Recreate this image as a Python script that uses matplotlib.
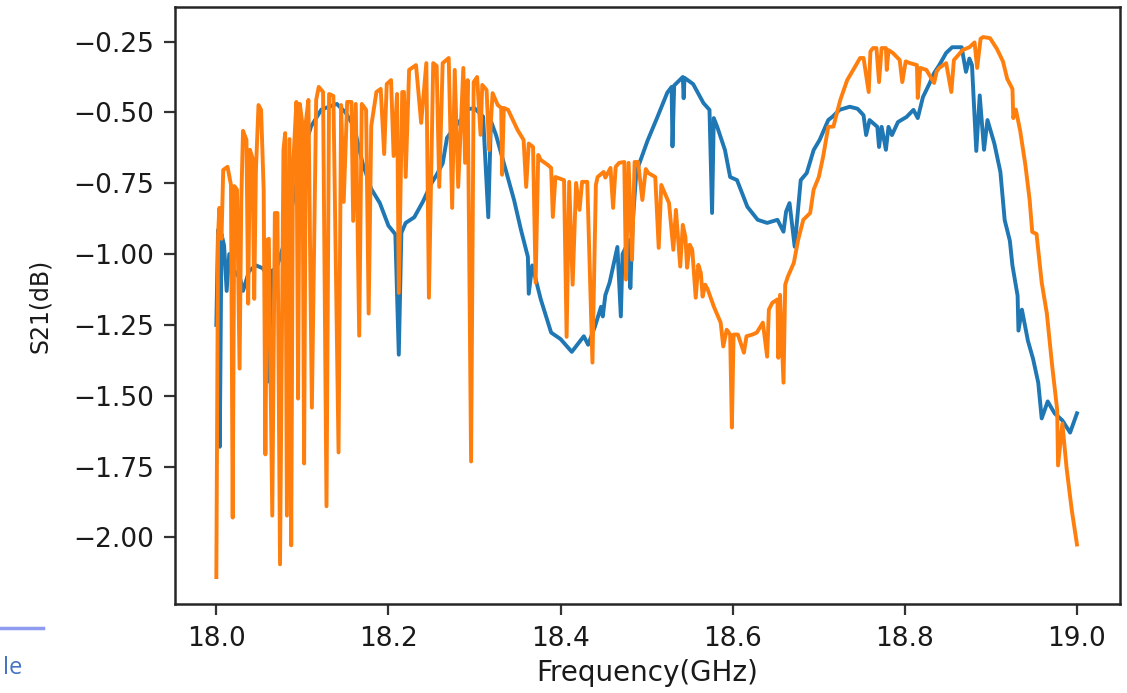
import matplotlib
matplotlib.use("Agg")
import matplotlib.pyplot as plt
from matplotlib.lines import Line2D

# S21 of the two filter versions
freq_a = [18.000, 18.002, 18.004, 18.006, 18.009, 18.012, 18.015, 18.019, 18.028, 18.031,
          18.038, 18.046, 18.054, 18.058, 18.061, 18.064, 18.070, 18.080, 18.090, 18.100,
          18.110, 18.122, 18.140, 18.150, 18.160, 18.170, 18.180, 18.190, 18.200, 18.208,
          18.212, 18.215, 18.220, 18.230, 18.240, 18.250, 18.256, 18.263, 18.268, 18.275,
          18.287, 18.290, 18.300, 18.310, 18.316, 18.319, 18.325, 18.334, 18.346, 18.354,
          18.362, 18.363, 18.367, 18.377, 18.389, 18.400, 18.413, 18.427, 18.432, 18.440,
          18.447, 18.449, 18.452, 18.457, 18.466, 18.470, 18.472, 18.480, 18.481, 18.484,
          18.488, 18.501, 18.512, 18.524, 18.529, 18.530, 18.532, 18.542, 18.543, 18.544,
          18.554, 18.566, 18.573, 18.576, 18.578, 18.582, 18.591, 18.597, 18.605, 18.617,
          18.629, 18.640, 18.652, 18.659, 18.662, 18.666, 18.672, 18.679, 18.686, 18.694,
          18.701, 18.711, 18.716, 18.724, 18.736, 18.745, 18.752, 18.755, 18.759, 18.768,
          18.770, 18.773, 18.778, 18.781, 18.785, 18.792, 18.802, 18.810, 18.815, 18.821,
          18.829, 18.834, 18.840, 18.848, 18.855, 18.866, 18.871, 18.875, 18.878, 18.883,
          18.887, 18.892, 18.896, 18.904, 18.911, 18.916, 18.922, 18.925, 18.931, 18.932,
          18.936, 18.943, 18.949, 18.955, 18.959, 18.966, 18.974, 18.983, 18.992, 19.000]
s21_a = [-1.25, -0.915, -1.68, -0.93, -0.97, -1.13, -1.00, -1.05, -1.09, -1.13,
         -1.06, -1.04, -1.05, -1.07, -1.45, -1.06, -1.05, -0.95, -0.80, -0.65,
         -0.55, -0.49, -0.47, -0.50, -0.55, -0.68, -0.77, -0.82, -0.90, -0.93,
         -1.355, -0.925, -0.89, -0.87, -0.815, -0.75, -0.72, -0.68, -0.59, -0.56,
         -0.515, -0.49, -0.485, -0.515, -0.87, -0.53, -0.58, -0.678, -0.81, -0.915,
         -1.01, -1.14, -1.04, -1.16, -1.277, -1.30, -1.345, -1.29, -1.32, -1.255,
         -1.186, -1.22, -1.145, -1.10, -0.975, -1.22, -1.00, -0.95, -1.12, -0.88,
         -0.71, -0.60, -0.52, -0.43, -0.41, -0.62, -0.405, -0.375, -0.45, -0.378,
         -0.40, -0.467, -0.491, -0.855, -0.52, -0.551, -0.633, -0.728, -0.739, -0.833,
         -0.879, -0.89, -0.879, -0.921, -0.85, -0.82, -0.974, -0.739, -0.714, -0.633,
         -0.597, -0.527, -0.515, -0.491, -0.48, -0.487, -0.51, -0.58, -0.527, -0.551,
         -0.622, -0.551, -0.632, -0.551, -0.58, -0.534, -0.516, -0.491, -0.52, -0.446,
         -0.396, -0.361, -0.333, -0.29, -0.27, -0.27, -0.357, -0.31, -0.333, -0.636,
         -0.44, -0.632, -0.527, -0.61, -0.71, -0.88, -0.953, -1.04, -1.147, -1.27,
         -1.196, -1.306, -1.37, -1.454, -1.58, -1.52, -1.562, -1.587, -1.63, -1.562]

freq_b = [18.000, 18.002, 18.0035, 18.006, 18.008, 18.013, 18.017, 18.019, 18.021, 18.024,
          18.027, 18.029, 18.031, 18.035, 18.037, 18.039, 18.042, 18.044, 18.046, 18.049,
          18.052, 18.055, 18.057, 18.059, 18.061, 18.065, 18.068, 18.071, 18.074, 18.078,
          18.080, 18.082, 18.085, 18.087, 18.089, 18.093, 18.095, 18.097, 18.100, 18.102,
          18.104, 18.107, 18.111, 18.116, 18.119, 18.124, 18.128, 18.131, 18.136, 18.142,
          18.145, 18.148, 18.152, 18.157, 18.159, 18.162, 18.166, 18.169, 18.174, 18.177,
          18.180, 18.186, 18.191, 18.195, 18.198, 18.203, 18.206, 18.210, 18.212, 18.216,
          18.218, 18.220, 18.224, 18.232, 18.238, 18.244, 18.247, 18.252, 18.256, 18.259,
          18.263, 18.270, 18.274, 18.277, 18.281, 18.287, 18.289, 18.292, 18.296, 18.299,
          18.303, 18.307, 18.309, 18.314, 18.317, 18.321, 18.327, 18.331, 18.332, 18.334,
          18.339, 18.350, 18.357, 18.360, 18.363, 18.368, 18.371, 18.374, 18.377, 18.385,
          18.389, 18.391, 18.394, 18.404, 18.407, 18.410, 18.414, 18.418, 18.422, 18.425,
          18.431, 18.437, 18.441, 18.443, 18.450, 18.452, 18.458, 18.461, 18.464, 18.468,
          18.474, 18.476, 18.479, 18.483, 18.486, 18.490, 18.495, 18.499, 18.502, 18.510,
          18.514, 18.517, 18.526, 18.531, 18.534, 18.539, 18.542, 18.545, 18.547, 18.550,
          18.553, 18.557, 18.560, 18.563, 18.565, 18.568, 18.571, 18.578, 18.586, 18.589,
          18.593, 18.597, 18.599, 18.601, 18.606, 18.613, 18.616, 18.623, 18.628, 18.635,
          18.640, 18.642, 18.646, 18.652, 18.653, 18.655, 18.659, 18.661, 18.664, 18.671,
          18.676, 18.682, 18.690, 18.694, 18.700, 18.705, 18.711, 18.717, 18.725, 18.733,
          18.740, 18.748, 18.752, 18.758, 18.760, 18.763, 18.767, 18.770, 18.773, 18.778,
          18.779, 18.781, 18.786, 18.794, 18.797, 18.801, 18.806, 18.814, 18.815, 18.818,
          18.825, 18.834, 18.837, 18.840, 18.848, 18.854, 18.857, 18.860, 18.867, 18.875,
          18.881, 18.884, 18.888, 18.891, 18.899, 18.907, 18.914, 18.919, 18.925, 18.926,
          18.929, 18.934, 18.940, 18.945, 18.948, 18.953, 18.959, 18.965, 18.971, 18.977,
          18.978, 18.983, 18.988, 18.994, 19.000]
s21_b = [-2.14, -0.935, -0.837, -0.946, -0.703, -0.692, -0.756, -1.93, -0.76, -0.773,
         -1.404, -0.809, -0.565, -0.597, -1.175, -0.632, -0.66, -1.158, -0.703, -0.474,
         -0.491, -0.773, -1.707, -0.95, -0.946, -1.923, -0.855, -0.855, -2.095, -0.632,
         -0.573, -1.923, -0.594, -2.028, -0.703, -0.463, -1.51, -0.47, -0.541, -1.739,
         -0.534, -0.456, -1.542, -0.456, -0.41, -0.428, -1.89, -0.435, -0.442, -1.70,
         -0.474, -0.816, -0.463, -0.463, -0.883, -0.47, -1.288, -0.47, -0.491, -1.21,
         -0.548, -0.428, -0.417, -0.647, -0.40, -0.386, -0.654, -0.435, -1.137, -0.428,
         -0.428, -0.728, -0.35, -0.333, -0.537, -0.326, -1.154, -0.326, -0.336, -0.763,
         -0.326, -0.308, -0.837, -0.35, -0.763, -0.343, -0.678, -0.386, -1.732, -0.393,
         -0.375, -0.579, -0.403, -0.421, -0.633, -0.432, -0.474, -0.484, -0.72, -0.484,
         -0.491, -0.562, -0.597, -0.763, -0.61, -0.622, -1.101, -0.65, -0.668, -0.685,
         -0.696, -0.869, -0.728, -0.739, -1.292, -0.745, -1.108, -0.749, -0.844, -0.745,
         -0.745, -1.383, -0.756, -0.728, -0.71, -0.73, -0.696, -0.837, -0.692, -0.678,
         -0.675, -1.09, -0.678, -1.02, -0.675, -0.675, -0.809, -0.70, -0.714, -0.728,
         -0.978, -0.756, -0.82, -0.985, -0.844, -1.044, -0.897, -0.939, -1.048, -0.967,
         -0.985, -1.154, -1.038, -1.067, -1.15, -1.108, -1.125, -1.185, -1.242, -1.326,
         -1.267, -1.284, -1.612, -1.284, -1.284, -1.348, -1.29, -1.284, -1.277, -1.242,
         -1.362, -1.196, -1.172, -1.16, -1.366, -1.144, -1.454, -1.108, -1.08, -1.031,
         -0.95, -0.879, -0.855, -0.773, -0.728, -0.657, -0.551, -0.55, -0.456, -0.386,
         -0.35, -0.308, -0.308, -0.428, -0.285, -0.273, -0.273, -0.393, -0.273, -0.273,
         -0.35, -0.28, -0.29, -0.315, -0.393, -0.32, -0.326, -0.333, -0.449, -0.343,
         -0.35, -0.396, -0.355, -0.343, -0.326, -0.428, -0.315, -0.305, -0.28, -0.27,
         -0.253, -0.343, -0.24, -0.234, -0.238, -0.276, -0.32, -0.382, -0.417, -0.52,
         -0.49, -0.565, -0.685, -0.809, -0.922, -0.929, -1.10, -1.21, -1.39, -1.55,
         -1.746, -1.598, -1.757, -1.905, -2.025]

xticks = [18.0, 18.2, 18.4, 18.6, 18.8, 19.0]
yticks = [-0.25, -0.5, -0.75, -1.0, -1.25, -1.5, -1.75, -2.0]

fig = plt.figure(figsize=(11.27, 6.93), dpi=100)
ax = fig.add_axes([0.1553, 0.1284, 0.8385, 0.8615])

ax.plot(freq_a, s21_a, color="#1f77b4", lw=2.8)
ax.plot(freq_b, s21_b, color="#ff7f0e", lw=2.8)

ax.set_xticks(xticks)
ax.set_yticks(yticks)
ax.set_xlim(17.952, 19.05)
ax.set_ylim(-2.235, -0.128)

ax.tick_params(labelsize=19, length=8, width=1.6, color="#333333", labelcolor="#1a1a1a")
ax.tick_params(axis="x", pad=8)
ax.tick_params(axis="y", pad=7)
for s in ax.spines.values():
    s.set_linewidth(1.8)
    s.set_color("#262626")

ax.set_xlabel("Frequency(GHz)", fontsize=20, labelpad=5, color="#1a1a1a")
ax.set_ylabel("S21(dB)", fontsize=17, labelpad=15, color="#1a1a1a")

# bits of the surrounding page caught in the screenshot
fig.add_artist(Line2D([0.0, 0.038], [0.094, 0.094], color="#8e9cf0", lw=2.5,
                      transform=fig.transFigure))
fig.text(0.003, 0.028, "le", color="#4472c4", fontsize=17, family="Open Sans")

fig.savefig("out.png", dpi=100)
